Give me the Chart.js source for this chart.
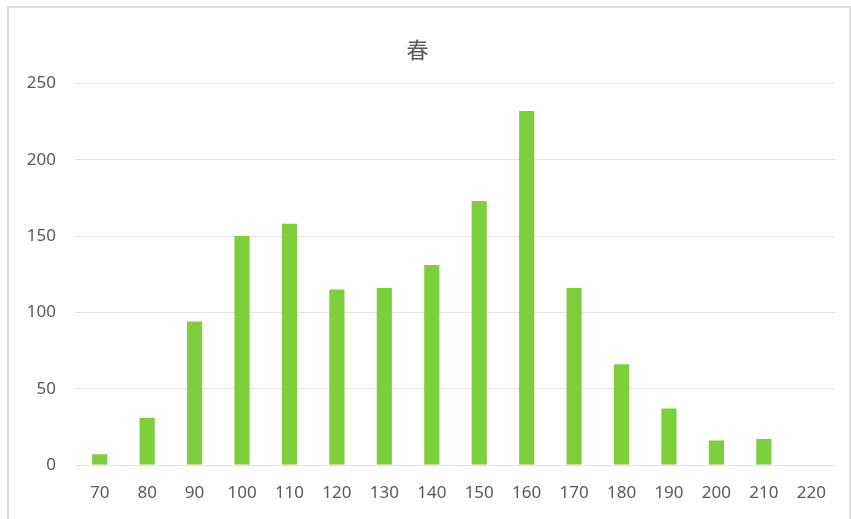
<!DOCTYPE html>
<html lang="zh">

<head>
    <meta charset="UTF-8">
    <title>春</title>
    <script src="https://cdn.jsdelivr.net/npm/chart.js"></script>
    <style>
        body {
            margin: 0;
            background: #fff;
            overflow: hidden;
        }

        .frame {
            position: absolute;
            left: 7px;
            top: 6px;
            width: 840px;
            height: 530px;
            border: 2px solid #dcdcdc;
        }

        .wrap {
            position: absolute;
            left: 0;
            top: 0;
            width: 851px;
            height: 519px;
        }
    </style>
</head>

<body>
    <div class="frame"></div>
    <div class="wrap"><canvas id="chart"></canvas></div>

    <script>
        const categories = ['70', '80', '90', '100', '110', '120', '130', '140', '150', '160', '170', '180', '190', '200', '210', '220'];
        const counts = [7, 31, 94, 150, 158, 115, 116, 131, 173, 232, 116, 66, 37, 16, 17, 0];
        const yTicks = [0, 50, 100, 150, 200, 250];

        const font = "'Noto Sans', 'Noto Sans CJK SC', sans-serif";

        new Chart(document.getElementById('chart'), {
            type: 'bar',
            data: {
                labels: categories,
                datasets: [{
                    data: counts,
                    backgroundColor: '#7ecf3c',
                    borderWidth: 0,
                    barPercentage: 0.32,
                    categoryPercentage: 1
                }]
            },
            options: {
                responsive: true,
                maintainAspectRatio: false,
                animation: false,
                layout: { padding: { left: 0, right: 16, top: 0, bottom: 0 } },
                plugins: {
                    legend: { display: false },
                    tooltip: { enabled: false },
                    title: {
                        display: true,
                        text: '春',
                        color: '#595959',
                        font: { family: font, size: 22, weight: 'normal', lineHeight: 1.2 },
                        padding: { top: 39, bottom: 18 }
                    }
                },
                scales: {
                    x: {
                        afterFit: s => { s.height = 54; },
                        grid: { display: false, drawTicks: false },
                        border: { display: false },
                        ticks: {
                            color: '#595959',
                            font: { family: font, size: 17 },
                            padding: 18,
                            maxRotation: 0
                        }
                    },
                    y: {
                        min: 0,
                        max: 250,
                        afterBuildTicks: s => { s.ticks = yTicks.map(v => ({ value: v })); },
                        afterFit: s => { s.width = 76; },
                        grid: { color: '#e3e3e3', drawTicks: false, lineWidth: 1 },
                        border: { display: false },
                        ticks: {
                            color: '#595959',
                            font: { family: font, size: 17 },
                            padding: 20
                        }
                    }
                }
            }
        });
    </script>
</body>

</html>
